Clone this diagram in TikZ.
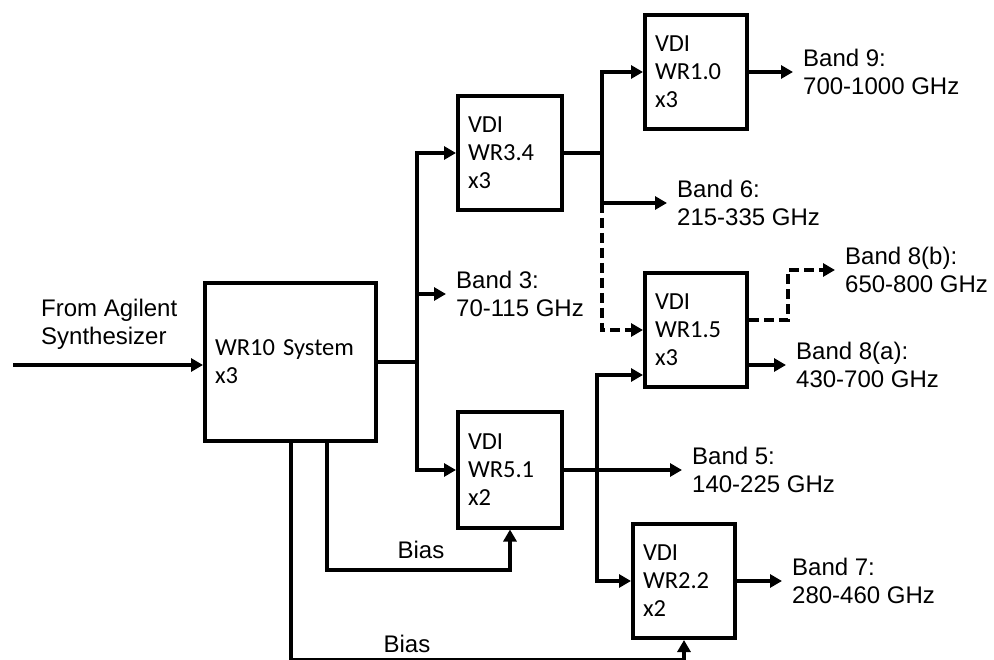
\documentclass[tikz,border=0pt]{standalone}
\usepackage{fontspec}
\setmainfont{Liberation Sans}
\newfontfamily\boxfont{Carlito}
\usetikzlibrary{arrows.meta}

\begin{document}
\begin{tikzpicture}[x=1pt, y=-1pt,
        wire/.style={line width=4pt},
        arr/.style={wire, -{Triangle[length=12pt,width=13pt]}},
        dasharr/.style={arr, dash pattern=on 10pt off 5pt},
        block/.style={draw, line width=4pt, inner xsep=10pt, inner ysep=0pt, align=left,
            font=\boxfont\fontsize{24.5}{28}\selectfont},
        lbl/.style={inner sep=0pt, align=left, font=\fontsize{24}{28}\selectfont},
        band/.style={lbl, anchor=west, inner xsep=10pt}]
    \useasboundingbox[fill=white] (0,0) rectangle (994,660);

    % blocks
    \node[block, text width=151pt, minimum height=157pt] (wr10) at (290.5,362) {WR10 System\\x3};
    \node[block, text width=84pt, minimum height=114pt] (wr34) at (510,153) {VDI\\WR3.4\\x3};
    \node[block, text width=84pt, minimum height=115pt] (wr51) at (510,470) {VDI\\WR5.1\\x2};
    \node[block, text width=82pt, minimum height=114pt] (wr1) at (696,72) {VDI\\WR1.0\\x3};
    \node[block, text width=82pt, minimum height=114pt] (wr15) at (696,330) {VDI\\WR1.5\\x3};
    \node[block, text width=82pt, minimum height=114pt] (wr22) at (684,581) {VDI\\WR2.2\\x2};

    % band labels
    \node[band] (b9) at (793,72) {Band 9:\\700-1000 GHz};
    \node[band] (b6) at (667,203) {Band 6:\\215-335 GHz};
    \node[band] (b3) at (446,294) {Band 3:\\70-115 GHz};
    \node[band] (b8b) at (835,270) {Band 8(b):\\650-800 GHz};
    \node[band] (b8a) at (786,365) {Band 8(a):\\430-700 GHz};
    \node[band] (b5) at (682,470) {Band 5:\\140-225 GHz};
    \node[band] (b7) at (782,581) {Band 7:\\280-460 GHz};
    \node[lbl, anchor=west] (src) at (41,324) {From Agilent\\Synthesizer};
    \node[lbl] (bias1) at (421,550) {Bias};
    \node[lbl] (bias2) at (407,644) {Bias};

    \coordinate (in) at (13,365);
    \coordinate (j1) at (417,362);
    \coordinate (j2) at (602,153);
    \coordinate (j3) at (597,470);

    % input and first split
    \draw[arr] (in) -- (wr10.west |- in);
    \draw[wire] (wr10.east) -- (j1);
    \draw[arr] (j1) |- (wr34.west);
    \draw[arr] (j1) |- (wr51.west);
    \draw[arr] (j1 |- b3.west) -- (b3.west);

    % after WR3.4
    \draw[wire] (wr34.east) -- (j2);
    \draw[arr] (j2) |- (wr1.west);
    \draw[arr] (j2) |- (b6.west);
    \draw[dasharr] (j2 |- b6.west) |- (wr15.west);
    \draw[arr] (wr1.east) -- (b9.west);

    % after WR5.1
    \draw[arr] (wr51.east) -- (b5.west);
    \draw[arr] (j3) |- ([yshift=-45pt]wr15.west);
    \draw[arr] (j3) |- (wr22.west);

    % outputs of WR1.5 and WR2.2
    \draw[dasharr] ([yshift=10pt]wr15.east) -| ([xshift=-47pt]b8b.west) -- (b8b.west);
    \draw[arr] ([yshift=-35pt]wr15.east) -- (b8a.west);
    \draw[arr] (wr22.east) -- (b7.west);

    % bias lines
    \draw[arr] ([xshift=36.5pt]wr10.south) |- ([yshift=-40.5pt]wr51.south) -- (wr51.south);
    \draw[arr] ([xshift=0.5pt]wr10.south) |- ([yshift=-19.5pt]wr22.south) -- (wr22.south);
\end{tikzpicture}
\end{document}
